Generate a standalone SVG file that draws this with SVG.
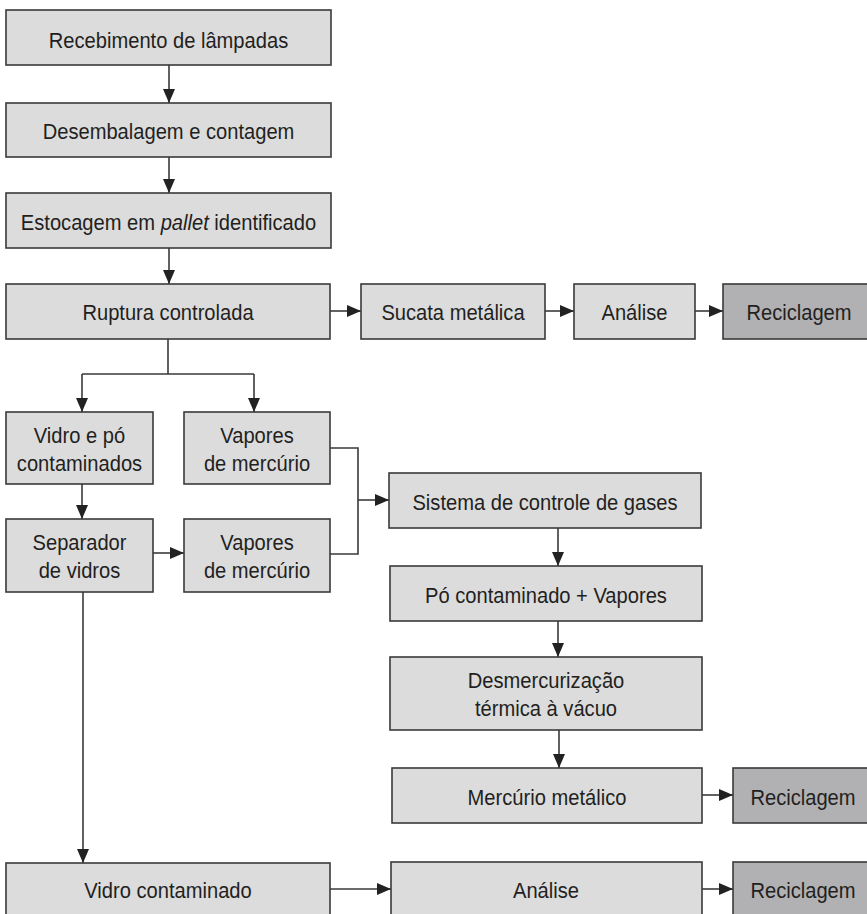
<svg xmlns="http://www.w3.org/2000/svg" width="867" height="914" viewBox="0 0 867 914">
<defs>
<marker id="ah" markerUnits="userSpaceOnUse" markerWidth="15" markerHeight="12" refX="14" refY="6" orient="auto">
<path d="M0,0 L14,6 L0,12 z" fill="#222"/>
</marker>
<style>
.b{fill:#dcdcdd;stroke:#3a3a3a;stroke-width:1.6}
.d{fill:#b1b1b3;stroke:#3a3a3a;stroke-width:1.6}
.t{font-family:"Liberation Sans",Arial,sans-serif;font-size:22px;fill:#231f20;text-anchor:middle}
.c{fill:none;stroke:#3a3a3a;stroke-width:1.6}
.a{fill:none;stroke:#3a3a3a;stroke-width:1.6;marker-end:url(#ah)}
</style>
</defs>
<rect width="867" height="914" fill="#fff"/>
<g id="connectors">
<path class="a" d="M169,65 V103"/>
<path class="a" d="M169,157 V193"/>
<path class="a" d="M169,248 V284"/>
<path class="a" d="M330,311 H361"/>
<path class="a" d="M545,311 H574"/>
<path class="a" d="M695,311 H723"/>
<path class="c" d="M168,339 V374 M82,374 H254"/>
<path class="a" d="M82,374 V412"/>
<path class="a" d="M254,374 V412"/>
<path class="a" d="M82,484 V519"/>
<path class="a" d="M153,553 H184"/>
<path class="c" d="M330,448 H358 V554 H330"/>
<path class="a" d="M358,500 H389"/>
<path class="a" d="M558,528 V566"/>
<path class="a" d="M558,621 V657"/>
<path class="a" d="M559,730 V768"/>
<path class="a" d="M702,795 H733"/>
<path class="a" d="M83,592 V863"/>
<path class="a" d="M330,889 H391"/>
<path class="a" d="M702,889 H733"/>
</g>
<g id="n1"><rect class="b" x="6" y="10" width="325" height="55"/><text class="t" transform="translate(168.5 48) scale(0.915 1)">Recebimento de lâmpadas</text></g>
<g id="n2"><rect class="b" x="6" y="103" width="325" height="54"/><text class="t" transform="translate(168.5 139) scale(0.915 1)">Desembalagem e contagem</text></g>
<g id="n3"><rect class="b" x="6" y="193" width="325" height="55"/><text class="t" transform="translate(168.5 230) scale(0.915 1)">Estocagem em <tspan font-style="italic">pallet</tspan> identificado</text></g>
<g id="n4"><rect class="b" x="6" y="284" width="324" height="55"/><text class="t" transform="translate(168 320) scale(0.915 1)">Ruptura controlada</text></g>
<g id="n5"><rect class="b" x="361" y="284" width="184" height="55"/><text class="t" transform="translate(453 320) scale(0.915 1)">Sucata metálica</text></g>
<g id="n6"><rect class="b" x="574" y="284" width="121" height="55"/><text class="t" transform="translate(634.5 320) scale(0.915 1)">Análise</text></g>
<g id="n7"><rect class="d" x="723" y="284" width="150" height="55"/><text class="t" transform="translate(799 320) scale(0.915 1)">Reciclagem</text></g>
<g id="n8"><rect class="b" x="6" y="412" width="147" height="72"/><text class="t" transform="translate(79.5 443) scale(0.915 1)">Vidro e pó</text><text class="t" transform="translate(79.5 471) scale(0.915 1)">contaminados</text></g>
<g id="n9"><rect class="b" x="184" y="412" width="146" height="72"/><text class="t" transform="translate(257 443) scale(0.915 1)">Vapores</text><text class="t" transform="translate(257 471) scale(0.915 1)">de mercúrio</text></g>
<g id="n10"><rect class="b" x="6" y="519" width="147" height="73"/><text class="t" transform="translate(79.5 550) scale(0.915 1)">Separador</text><text class="t" transform="translate(79.5 578) scale(0.915 1)">de vidros</text></g>
<g id="n11"><rect class="b" x="184" y="519" width="146" height="73"/><text class="t" transform="translate(257 550) scale(0.915 1)">Vapores</text><text class="t" transform="translate(257 578) scale(0.915 1)">de mercúrio</text></g>
<g id="n12"><rect class="b" x="389" y="473" width="312" height="55"/><text class="t" transform="translate(545 510) scale(0.915 1)">Sistema de controle de gases</text></g>
<g id="n13"><rect class="b" x="390" y="566" width="312" height="55"/><text class="t" transform="translate(546 603) scale(0.915 1)">Pó contaminado + Vapores</text></g>
<g id="n14"><rect class="b" x="390" y="657" width="312" height="73"/><text class="t" transform="translate(546 688) scale(0.915 1)">Desmercurização</text><text class="t" transform="translate(546 716) scale(0.915 1)">térmica à vácuo</text></g>
<g id="n15"><rect class="b" x="392" y="768" width="310" height="55"/><text class="t" transform="translate(547 805) scale(0.915 1)">Mercúrio metálico</text></g>
<g id="n16"><rect class="d" x="733" y="768" width="140" height="55"/><text class="t" transform="translate(803 805) scale(0.915 1)">Reciclagem</text></g>
<g id="n17"><rect class="b" x="6" y="863" width="324" height="60"/><text class="t" transform="translate(168 898) scale(0.915 1)">Vidro contaminado</text></g>
<g id="n18"><rect class="b" x="391" y="862" width="311" height="60"/><text class="t" transform="translate(546 898) scale(0.915 1)">Análise</text></g>
<g id="n19"><rect class="d" x="733" y="862" width="140" height="60"/><text class="t" transform="translate(803 898) scale(0.915 1)">Reciclagem</text></g>
</svg>
